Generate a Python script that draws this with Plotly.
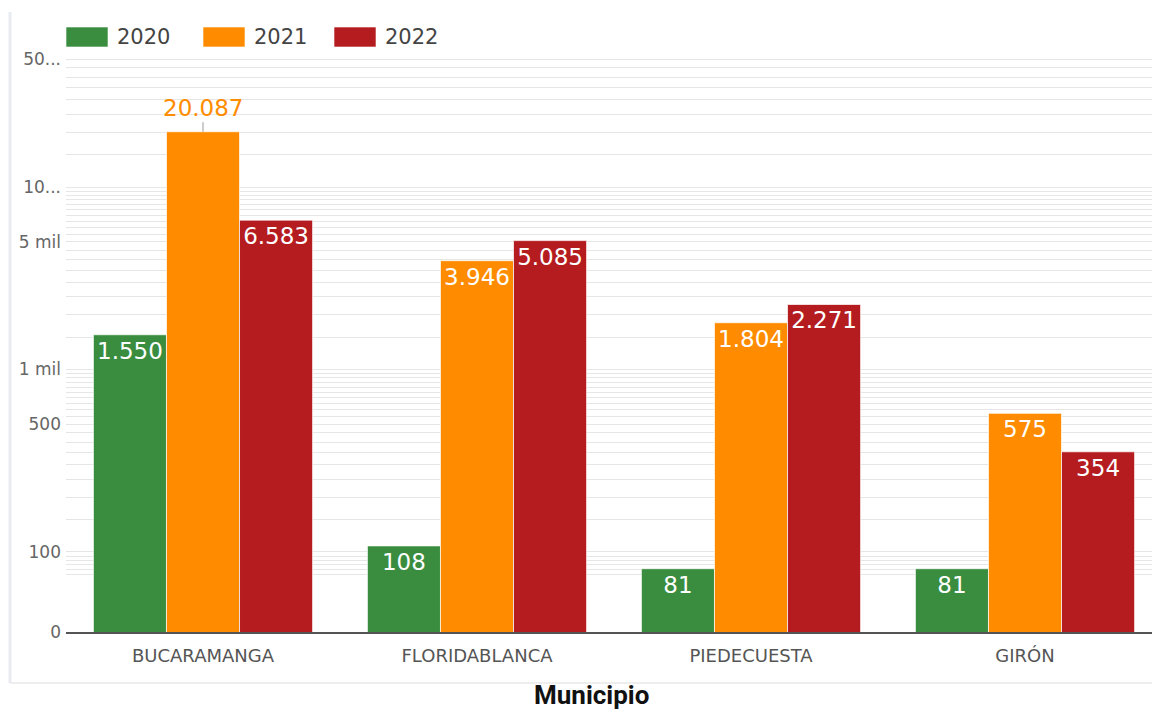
import plotly.graph_objects as go
import numpy as np

# ---------------- data ----------------
municipios = ["BUCARAMANGA", "FLORIDABLANCA", "PIEDECUESTA", "GIRÓN"]
years = ["2020", "2021", "2022"]
v2020 = [1550, 108, 81, 81]
v2021 = [20087, 3946, 1804, 575]
v2022 = [6583, 5085, 2271, 354]
series = [v2020, v2021, v2022]
colors = ["#3a8d3f", "#ff8c00", "#b41c1f"]

# axis ticks (labelled) and gridlines
label_vals = [36.44, 100, 500, 1000, 5000, 10000, 50000]
label_text = ["0", "100", "500", "1 mil", "5 mil", "10...", "50..."]
grid_vals = (list(range(75, 100, 5)) + list(range(100, 1000, 50)) +
             list(range(1000, 10000, 500)) + list(range(10000, 50001, 5000)))

def fmt(v):
    return f"{v:,}".replace(",", ".")

# ---------------- layout constants (pixels) ----------------
W, H = 1152, 711
L, R, T, B = 66, 0, 50, 79
plot_w = W - L - R
plot_h = H - T - B
band = 274.0
x_range = [-0.5, -0.5 + plot_w / band]
y_bottom = np.log10(36.44)
y_top = 4 + (187 - T) / 182.5

def px_x(px):
    return (px - L) / plot_w

def px_y(py):
    return (H - B - py) / plot_h

FONT = "DejaVu Sans"

fig = go.Figure()
vmax = max(max(s) for s in series)
for i, (name, vals, col) in enumerate(zip(years, series, colors)):
    texts = ["" if v == vmax else fmt(v) for v in vals]
    fig.add_trace(go.Bar(
        x=municipios, y=vals, name=name,
        marker=dict(color=col, line=dict(color="rgba(255,255,255,0.7)", width=1)),
        text=texts, textposition="inside", insidetextanchor="end",
        textangle=0,
        textfont=dict(family=FONT, size=23, color="white"),
        showlegend=False, hoverinfo="skip",
    ))

# outside label with leader line for the largest value
for si, vals in enumerate(series):
    for ci, v in enumerate(vals):
        if v == vmax:
            fig.add_annotation(
                x=municipios[ci], y=np.log10(v), xref="x", yref="y",
                text=fmt(v), showarrow=True, arrowhead=0, arrowwidth=1,
                arrowcolor="#999999", ax=0, ay=-24, standoff=0,
                font=dict(family=FONT, size=23, color=colors[si]),
            )

# custom legend
legend_sw_x = [66, 203, 334]
for name, col, sx in zip(years, colors, legend_sw_x):
    fig.add_shape(type="rect", xref="paper", yref="paper",
                  x0=px_x(sx), x1=px_x(sx + 42), y0=px_y(47), y1=px_y(27),
                  fillcolor=col, line=dict(color="rgba(255,255,255,0.6)", width=1))
    fig.add_annotation(xref="paper", yref="paper", x=px_x(sx + 49), y=px_y(37),
                       xanchor="left", yanchor="middle", showarrow=False,
                       text=name, font=dict(family=FONT, size=21, color="#444444"))

# container borders
fig.add_shape(type="line", xref="paper", yref="paper",
              x0=px_x(10), x1=px_x(10), y0=px_y(12), y1=px_y(683),
              line=dict(color="#e8ecf0", width=3))
fig.add_shape(type="line", xref="paper", yref="paper",
              x0=px_x(10), x1=px_x(1152), y0=px_y(683), y1=px_y(683),
              line=dict(color="#eeeeee", width=2))

# x-axis title
fig.add_annotation(xref="paper", yref="paper", x=px_x(591), y=px_y(711),
                   xanchor="center", yanchor="bottom", showarrow=False,
                   text="<b>Municipio</b>", borderpad=0,
                   font=dict(family="Roboto", size=26, color="#111111"))

tickvals = grid_vals + [v for v in label_vals if v not in grid_vals]
ticktext = [label_text[label_vals.index(v)] if v in label_vals else "" for v in tickvals]

fig.update_layout(
    width=W, height=H,
    margin=dict(l=L, r=R, t=T, b=B, pad=0),
    paper_bgcolor="white", plot_bgcolor="white",
    barmode="group", bargap=0.2, bargroupgap=0,
    separators=",.",
    uniformtext=dict(minsize=23, mode="show"),
    xaxis=dict(
        range=x_range, showgrid=False, showline=True, linecolor="#555555",
        linewidth=1.5, ticks="", ticklabelstandoff=7,
        tickfont=dict(family=FONT, size=18, color="#555555"),
        fixedrange=True,
    ),
    yaxis=dict(
        type="log", range=[y_bottom, y_top],
        tickmode="array", tickvals=tickvals, ticktext=ticktext,
        showgrid=True, gridcolor="#e6e6e6", gridwidth=1,
        zeroline=False, showline=False, ticks="",
        ticklabelstandoff=4,
        tickfont=dict(family=FONT, size=17, color="#666666"),
        fixedrange=True,
    ),
)

fig.write_html("out.html", config={"displayModeBar": False},
               post_script="document.body.style.margin='0';document.body.style.overflow='hidden';")
